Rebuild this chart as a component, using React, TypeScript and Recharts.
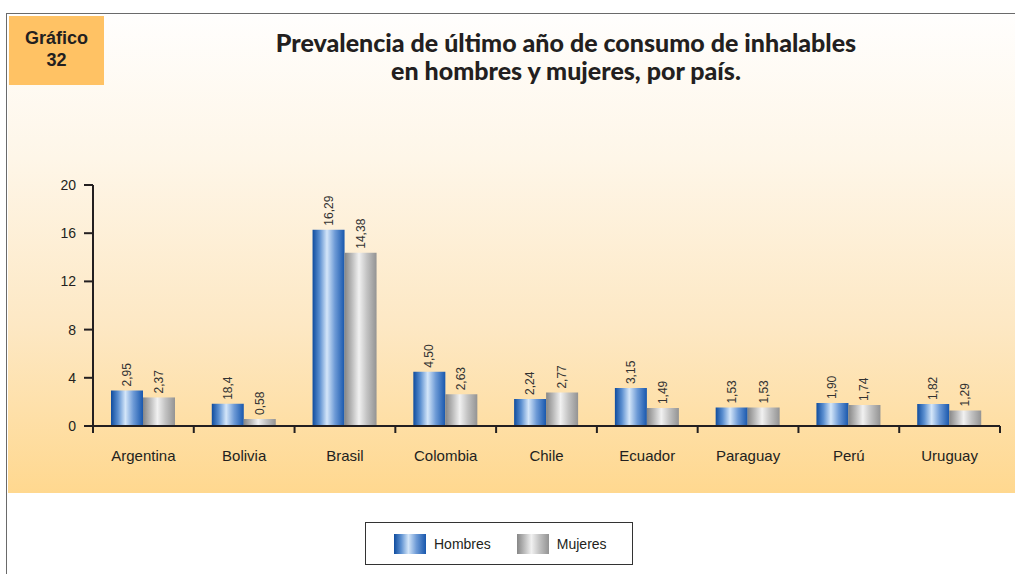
import React from 'react';
import { BarChart, Bar, XAxis, YAxis, Legend, LabelList } from 'recharts';

const countries = ['Argentina', 'Bolivia', 'Brasil', 'Colombia', 'Chile', 'Ecuador', 'Paraguay', 'Perú', 'Uruguay'];
const hombres = [2.95, 1.84, 16.29, 4.5, 2.24, 3.15, 1.53, 1.9, 1.82];
const mujeres = [2.37, 0.58, 14.38, 2.63, 2.77, 1.49, 1.53, 1.74, 1.29];
const hombresLabels = ['2,95', '18,4', '16,29', '4,50', '2,24', '3,15', '1,53', '1,90', '1,82'];
const mujeresLabels = ['2,37', '0,58', '14,38', '2,63', '2,77', '1,49', '1,53', '1,74', '1,29'];
const yTicks = [0, 4, 8, 12, 16, 20];
const titleLines = ['Prevalencia de último año de consumo de inhalables', 'en hombres y mujeres, por país.'];

const data = countries.map((c, i) => ({
  pais: c,
  Hombres: hombres[i],
  Mujeres: mujeres[i],
  hLabel: hombresLabels[i],
  mLabel: mujeresLabels[i],
}));

const FONT = '"Liberation Sans", Arial, sans-serif';
const INK = '#231f20';

const BLUE_CSS = 'linear-gradient(to right, #0f4c9e 0%, #5b8fd0 22%, #d4e6f9 45%, #6d9ad6 70%, #1857ad 100%)';
const GRAY_CSS = 'linear-gradient(to right, #868686 0%, #b9b9b9 22%, #f1f1f1 45%, #c2c2c2 70%, #939393 100%)';

const renderLabel = (props: any) => {
  const { x, y, width, value } = props;
  const cx = Number(x) + Number(width) / 2;
  const cy = Number(y) - 4;
  return (
    <text
      x={cx}
      y={cy}
      transform={`rotate(-90, ${cx}, ${cy})`}
      textAnchor="start"
      dominantBaseline="central"
      fontSize={12}
      fontFamily={FONT}
      fill="#333"
    >
      {value}
    </text>
  );
};

const CategoryTick = (props: any) => {
  const { x, y, payload, index, width, visibleTicksCount } = props;
  const count = Number(visibleTicksCount) || countries.length;
  const band = Number(width) / count;
  const left = Number(x) - band / 2;
  const right = Number(x) + band / 2;
  return (
    <g>
      <line x1={left} y1={y} x2={left} y2={Number(y) + 7} stroke={INK} strokeWidth={2} />
      {index === count - 1 && (
        <line x1={right} y1={y} x2={right} y2={Number(y) + 7} stroke={INK} strokeWidth={2} />
      )}
      <text x={x} y={Number(y) + 35} textAnchor="middle" fontSize={15} fontFamily={FONT} fill={INK}>
        {payload.value}
      </text>
    </g>
  );
};

const renderLegend = (props: any) => {
  const payload = props.payload || [];
  return (
    <div
      style={{
        boxSizing: 'border-box',
        width: 268,
        height: 43,
        border: '1.5px solid #333',
        background: '#fff',
        display: 'flex',
        alignItems: 'center',
        paddingLeft: 28,
        fontFamily: FONT,
        fontSize: 14,
        color: INK,
      }}
    >
      {payload.map((p: any, i: number) => (
        <div key={i} style={{ display: 'flex', alignItems: 'center', marginRight: i === 0 ? 26 : 0 }}>
          <div
            style={{
              width: 32,
              height: 20,
              background: p.value === 'Hombres' ? BLUE_CSS : GRAY_CSS,
              marginRight: 8,
            }}
          />
          <span>{p.value}</span>
        </div>
      ))}
    </div>
  );
};

export default function App() {
  return (
    <div
      style={{
        position: 'absolute',
        left: 0,
        top: 0,
        width: 1015,
        height: 574,
        overflow: 'hidden',
        background: '#fff',
        fontFamily: FONT,
      }}
    >
      <div
        style={{
          position: 'absolute',
          left: 6,
          top: 13,
          width: 1030,
          height: 600,
          borderLeft: '1.5px solid #6a6a6a',
          borderTop: '1.5px solid #6a6a6a',
        }}
      />
      <div
        style={{
          position: 'absolute',
          left: 7.5,
          top: 14.5,
          width: 1010,
          height: 478,
          background: 'linear-gradient(to bottom, #fffefd 0%, #fef6e8 30%, #fde8c4 65%, #ffd88f 100%)',
        }}
      />
      <div
        style={{
          position: 'absolute',
          left: 9,
          top: 16,
          width: 95,
          height: 69,
          background: '#ffc264',
        }}
      />
      <svg width={1015} height={574} style={{ position: 'absolute', left: 0, top: 0 }}>
        <text x={56.5} y={44} textAnchor="middle" fontFamily={FONT} fontWeight="bold" fontSize={18} fill={INK}>
          Gráfico
        </text>
        <text x={56.5} y={66} textAnchor="middle" fontFamily={FONT} fontWeight="bold" fontSize={18} fill={INK}>
          32
        </text>
        <text x={566} y={52} textAnchor="middle" fontFamily="Lato, sans-serif" fontWeight={900} fontSize={25} fill={INK}>
          {titleLines[0]}
        </text>
        <text x={566} y={80} textAnchor="middle" fontFamily="Lato, sans-serif" fontWeight={900} fontSize={25} fill={INK}>
          {titleLines[1]}
        </text>
      </svg>
      <div style={{ position: 'absolute', left: 0, top: 0 }}>
        <BarChart
          width={1015}
          height={574}
          data={data}
          margin={{ top: 185, right: 15, left: 53, bottom: 9 }}
          barSize={32}
          barGap={0}
        >
          <defs>
            <linearGradient id="gBlue" x1="0" y1="0" x2="1" y2="0">
              <stop offset="0%" stopColor="#0f4c9e" />
              <stop offset="22%" stopColor="#5b8fd0" />
              <stop offset="45%" stopColor="#d4e6f9" />
              <stop offset="70%" stopColor="#6d9ad6" />
              <stop offset="100%" stopColor="#1857ad" />
            </linearGradient>
            <linearGradient id="gGray" x1="0" y1="0" x2="1" y2="0">
              <stop offset="0%" stopColor="#868686" />
              <stop offset="22%" stopColor="#b9b9b9" />
              <stop offset="45%" stopColor="#f1f1f1" />
              <stop offset="70%" stopColor="#c2c2c2" />
              <stop offset="100%" stopColor="#939393" />
            </linearGradient>
          </defs>
          <XAxis
            dataKey="pais"
            height={96}
            axisLine={{ stroke: INK, strokeWidth: 2 }}
            tickLine={false}
            tickMargin={0}
            tickSize={0}
            interval={0}
            tick={<CategoryTick />}
          />
          <YAxis
            width={40}
            domain={[0, 20]}
            ticks={yTicks}
            interval={0}
            axisLine={{ stroke: INK, strokeWidth: 2 }}
            tickLine={{ stroke: INK, strokeWidth: 2 }}
            tickSize={9}
            tickMargin={8}
            tick={{ fontSize: 14, fill: INK, fontFamily: FONT }}
          />
          <Legend
            verticalAlign="bottom"
            content={renderLegend}
            wrapperStyle={{ left: 365, width: 268, bottom: 9 }}
          />
          <Bar dataKey="Hombres" fill="url(#gBlue)" isAnimationActive={false}>
            <LabelList dataKey="hLabel" content={renderLabel} />
          </Bar>
          <Bar dataKey="Mujeres" fill="url(#gGray)" isAnimationActive={false}>
            <LabelList dataKey="mLabel" content={renderLabel} />
          </Bar>
        </BarChart>
      </div>
    </div>
  );
}
